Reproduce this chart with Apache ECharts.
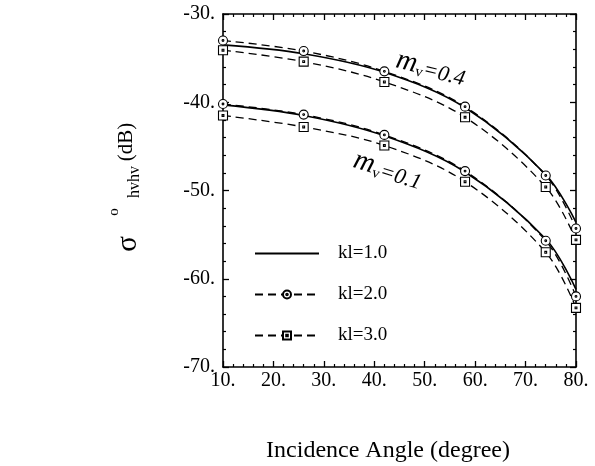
<!DOCTYPE html>
<html>
<head>
<meta charset="utf-8">
<script src="https://cdn.jsdelivr.net/npm/echarts@6/dist/echarts.min.js"></script>
<style>
html,body{margin:0;padding:0;background:#fff;}
#chart{width:595px;height:466px;}
</style>
</head>
<body>
<div id="chart"></div>
<script>
// ---- data ----
var angles = [10, 26, 42, 58, 74, 80];
var kl1_mv04 = [-33.5, -34.5, -36.6, -40.6, -48.2, -53.6];
var kl2_mv04 = [-33.0, -34.2, -36.5, -40.5, -48.3, -54.3];
var kl3_mv04 = [-34.1, -35.4, -37.7, -41.7, -49.6, -55.6];
var kl1_mv01 = [-40.3, -41.5, -43.8, -47.9, -55.5, -61.2];
var kl2_mv01 = [-40.2, -41.4, -43.7, -47.8, -55.7, -62.0];
var kl3_mv01 = [-41.5, -42.8, -44.9, -49.0, -57.0, -63.3];
var seriesNames = ['kl=1.0', 'kl=2.0', 'kl=3.0'];
var xTicks = [10, 20, 30, 40, 50, 60, 70, 80];
var yTicks = [-70, -60, -50, -40, -30];

function pairs(xs, ys) { return xs.map(function (x, i) { return [x, ys[i]]; }); }

var FONT = '"Liberation Serif", "DejaVu Serif", serif';
var circleSym = 'path://M0,-10A10,10 0 1,1 0,10A10,10 0 1,1 0,-10Z M0,-2A2,2 0 1,1 0,2A2,2 0 1,1 0,-2Z';
var squareSym = 'path://M-10,-10L10,-10L10,10L-10,10Z M-2,-2L2,-2L2,2L-2,2Z';

function solid(data) {
  return {
    name: seriesNames[0], type: 'line', data: data, smooth: 0.35,
    symbol: 'none', showSymbol: false,
    lineStyle: {color: '#000', width: 1.6, type: 'solid'},
    itemStyle: {color: 'rgba(0,0,0,0)', borderWidth: 0}, z: 3
  };
}
function dashed(name, data, sym) {
  return {
    name: name, type: 'line', data: data, smooth: 0.35,
    symbol: sym, symbolSize: 9, showSymbol: true,
    lineStyle: {color: '#000', width: 1.3, type: [8, 5]},
    itemStyle: {color: '#fff', borderColor: '#000', borderWidth: 1.1}, z: 4
  };
}

var chart = echarts.init(document.getElementById('chart'), null, {renderer: 'canvas'});

var axisCommon = {
  axisLine: {show: true, lineStyle: {color: '#000', width: 1.6}},
  axisTick: {show: true, inside: true, length: 6, lineStyle: {color: '#000', width: 1.3}},
  minorTick: {show: true, splitNumber: 5, length: 3, lineStyle: {color: '#000', width: 1.2}},
  splitLine: {show: false}
};

var option = {
  backgroundColor: '#fff',
  animation: false,
  grid: {left: 223, top: 14, width: 353, height: 353, containLabel: false},
  legend: {
    orient: 'vertical', left: 254, top: 244, padding: 0,
    itemWidth: 64, itemHeight: 10, itemGap: 22,
    data: seriesNames,
    textStyle: {fontFamily: FONT, fontSize: 19, color: '#000', padding: [0, 0, 0, 14]}
  },
  xAxis: [
    Object.assign({}, axisCommon, {
      type: 'value', min: xTicks[0], max: xTicks[xTicks.length - 1], interval: 10, position: 'bottom',
      axisLabel: {fontFamily: FONT, fontSize: 20, color: '#000', margin: 4,
        formatter: function (v) { return v + '.'; }}
    }),
    Object.assign({}, axisCommon, {
      type: 'value', min: xTicks[0], max: xTicks[xTicks.length - 1], interval: 10, position: 'top',
      axisLabel: {show: false}
    })
  ],
  yAxis: [
    Object.assign({}, axisCommon, {
      type: 'value', min: yTicks[0], max: yTicks[yTicks.length - 1], interval: 10, position: 'left',
      axisLabel: {fontFamily: FONT, fontSize: 20, color: '#000', margin: 8,
        formatter: function (v) { return v + '.'; }}
    }),
    Object.assign({}, axisCommon, {
      type: 'value', min: yTicks[0], max: yTicks[yTicks.length - 1], interval: 10, position: 'right',
      axisLabel: {show: false}
    })
  ],
  series: [
    solid(pairs(angles, kl1_mv04)),
    dashed(seriesNames[1], pairs(angles, kl2_mv04), circleSym),
    dashed(seriesNames[2], pairs(angles, kl3_mv04), squareSym),
    solid(pairs(angles, kl1_mv01)),
    dashed(seriesNames[1], pairs(angles, kl2_mv01), circleSym),
    dashed(seriesNames[2], pairs(angles, kl3_mv01), squareSym)
  ],
  graphic: [
    {type: 'text', x: 388, y: 451, style: {text: 'Incidence Angle (degree)', font: '24px ' + FONT, fill: '#000', align: 'center', verticalAlign: 'middle'}},
    {type: 'text', x: 128, y: 244, rotation: Math.PI / 2, style: {text: 'σ', font: '29px ' + FONT, fill: '#000', align: 'center', verticalAlign: 'middle'}},
    {type: 'text', x: 114, y: 212, rotation: Math.PI / 2, style: {text: 'o', font: '15px ' + FONT, fill: '#000', align: 'center', verticalAlign: 'middle'}},
    {type: 'text', x: 135, y: 182, rotation: Math.PI / 2, style: {text: 'hvhv', font: '16px ' + FONT, fill: '#000', align: 'center', verticalAlign: 'middle'}},
    {type: 'text', x: 126, y: 142, rotation: Math.PI / 2, style: {text: '(dB)', font: '21px ' + FONT, fill: '#000', align: 'center', verticalAlign: 'middle'}},
    {type: 'text', x: 431, y: 68, rotation: -0.24, style: {
      text: '{m|m}{v|v}{t|=0.4}', fill: '#000', align: 'center', verticalAlign: 'middle',
      rich: {m: {font: 'italic 29px ' + FONT, fill: '#000', verticalAlign: 'bottom'}, v: {font: '15px ' + FONT, fill: '#000', verticalAlign: 'bottom'}, t: {font: 'italic 22px ' + FONT, fill: '#000', verticalAlign: 'bottom'}}}},
    {type: 'text', x: 388, y: 170, rotation: -0.3, style: {
      text: '{m|m}{v|v}{t|=0.1}', fill: '#000', align: 'center', verticalAlign: 'middle',
      rich: {m: {font: 'italic 29px ' + FONT, fill: '#000', verticalAlign: 'bottom'}, v: {font: '15px ' + FONT, fill: '#000', verticalAlign: 'bottom'}, t: {font: 'italic 22px ' + FONT, fill: '#000', verticalAlign: 'bottom'}}}}
  ]
};
chart.setOption(option);
</script>
</body>
</html>
